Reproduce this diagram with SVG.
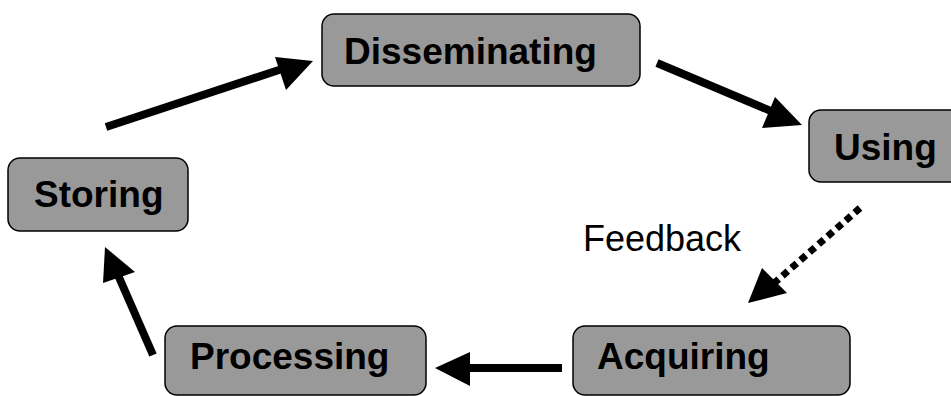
<svg xmlns="http://www.w3.org/2000/svg" width="951" height="396" viewBox="0 0 951 396">
<style>
.box{fill:#999999;stroke:#000;stroke-width:1.5}
.lbl{font-family:"Liberation Sans",Arial,sans-serif;font-weight:bold;font-size:37px;fill:#000}
.fb{font-family:"Liberation Sans",Arial,sans-serif;font-size:36px;fill:#000}
.ln{stroke:#000;stroke-width:8;fill:none}
.dot{stroke:#000;stroke-width:7;fill:none;stroke-dasharray:7 5}
.hd{fill:#000}
</style>
<rect width="951" height="396" fill="#fff"/>
<g id="node-disseminating"><rect class="box" x="322" y="14" width="318" height="72" rx="12"/><text class="lbl" x="344" y="64">Disseminating</text></g>
<g id="node-using"><rect class="box" x="809" y="110" width="170" height="72" rx="12"/><text class="lbl" x="834" y="160">Using</text></g>
<g id="node-storing"><rect class="box" x="8" y="158" width="180" height="73" rx="12"/><text class="lbl" x="34" y="207">Storing</text></g>
<g id="node-acquiring"><rect class="box" x="573" y="326" width="277" height="69" rx="12"/><text class="lbl" x="597" y="369">Acquiring</text></g>
<g id="node-processing"><rect class="box" x="165" y="326" width="261" height="69" rx="12"/><text class="lbl" x="190" y="369">Processing</text></g>
<g id="connectors">
<line class="ln" x1="106" y1="127" x2="285" y2="68"/>
<polygon class="hd" points="313,61 275,57 286,90"/>
<line class="ln" x1="657" y1="63" x2="778" y2="114"/>
<polygon class="hd" points="802,125 775,97 762,128"/>
<line class="dot" x1="860" y1="208" x2="772" y2="285"/>
<polygon class="hd" points="748,303 762,268 787,293"/>
<line class="ln" x1="562" y1="368" x2="465" y2="368"/>
<polygon class="hd" points="435,368 470,352 470,386"/>
<line class="ln" x1="153" y1="355" x2="118" y2="275"/>
<polygon class="hd" points="105,247 103,283 135,272"/>
<text class="fb" x="583" y="251">Feedback</text>
</g>
</svg>
